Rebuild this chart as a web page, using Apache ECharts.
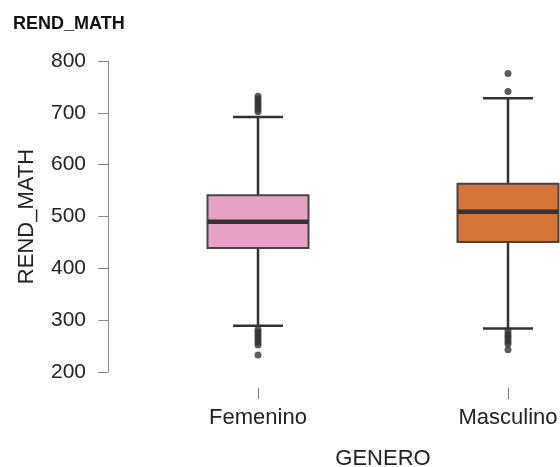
<!DOCTYPE html>
<html><head><meta charset="utf-8">
<script src="https://cdn.jsdelivr.net/npm/echarts@6/dist/echarts.min.js"></script>
<style>html,body{margin:0;padding:0;background:#fff}#c{width:560px;height:467px}</style>
</head><body><div id="c"></div>
<script>
var categories = ['Femenino', 'Masculino'];
// [min whisker, Q1, median, Q3, max whisker]
var boxFemenino = [289, 439, 490, 541, 692];
var boxMasculino = [284, 451, 509, 563, 728];
var outFemenino = [732, 727, 722, 717, 712, 707, 702, 282, 277, 272, 267, 262, 257, 252, 233];
var outMasculino = [776, 741, 279, 274, 269, 264, 259, 254, 243];
var colors = ['#e7a1c6', '#d8733a'];
var yTicks = [200, 300, 400, 500, 600, 700, 800];

var boxes = [boxFemenino, boxMasculino];
var boxData = boxes.map(function (b, i) { return [i].concat(b); });
var outData = [];
outFemenino.forEach(function (v) { outData.push([0, v]); });
outMasculino.forEach(function (v) { outData.push([1, v]); });

var chart = echarts.init(document.getElementById('c'));
chart.setOption({
  animation: false,
  title: { text: 'REND_MATH', left: 8, top: 10, textStyle: { fontFamily: 'Liberation Sans', fontWeight: 'bold', fontSize: 18, color: '#111' } },
  grid: { left: 133, width: 500, top: 61, height: 311, outerBoundsMode: 'none', containLabel: false },
  xAxis: {
    type: 'category', data: categories, boundaryGap: true, offset: 16,
    axisLine: { show: false },
    axisTick: { show: true, alignWithLabel: true, length: 11, lineStyle: { color: '#777' } },
    axisLabel: { fontFamily: 'Liberation Sans', fontSize: 22, color: '#222', margin: 19 },
    name: 'GENERO', nameLocation: 'middle', nameGap: 60,
    nameTextStyle: { fontFamily: 'Liberation Sans', fontSize: 22, color: '#222' }
  },
  yAxis: {
    type: 'value', min: 200, max: 800, interval: 100, offset: 25,
    axisLine: { show: true, lineStyle: { color: '#888' } },
    axisTick: { show: true, length: 10, lineStyle: { color: '#888' } },
    splitLine: { show: false },
    axisLabel: { fontFamily: 'Liberation Sans', fontSize: 21, color: '#222', margin: 22,
      formatter: function (v) { return yTicks.indexOf(v) >= 0 ? String(v) : ''; } },
    name: 'REND_MATH', nameLocation: 'middle', nameGap: 70, nameRotate: 90,
    nameTextStyle: { fontFamily: 'Liberation Sans', fontSize: 22, color: '#222' }
  },
  series: [{
    type: 'custom',
    data: boxData,
    encode: { x: 0, y: [1, 2, 3, 4, 5] },
    renderItem: function (params, api) {
      var i = api.value(0);
      var mn = api.coord([i, api.value(1)]);
      var q1 = api.coord([i, api.value(2)]);
      var md = api.coord([i, api.value(3)]);
      var q3 = api.coord([i, api.value(4)]);
      var mx = api.coord([i, api.value(5)]);
      var band = api.size([1, 0])[0];
      var bw = band * 0.404;
      var cw = band * 0.2;
      var cx = md[0];
      var ls = { stroke: '#333', lineWidth: 2.5 };
      return {
        type: 'group',
        children: [
          { type: 'line', shape: { x1: cx, y1: mx[1], x2: cx, y2: q3[1] }, style: ls },
          { type: 'line', shape: { x1: cx, y1: q1[1], x2: cx, y2: mn[1] }, style: ls },
          { type: 'line', shape: { x1: cx - cw / 2, y1: mx[1], x2: cx + cw / 2, y2: mx[1] }, style: ls },
          { type: 'line', shape: { x1: cx - cw / 2, y1: mn[1], x2: cx + cw / 2, y2: mn[1] }, style: ls },
          { type: 'rect', shape: { x: cx - bw / 2, y: q3[1], width: bw, height: q1[1] - q3[1] },
            style: { fill: colors[i], stroke: '#444', lineWidth: 2 } },
          { type: 'line', shape: { x1: cx - bw / 2, y1: md[1], x2: cx + bw / 2, y2: md[1] },
            style: { stroke: '#333', lineWidth: 4.5 } }
        ]
      };
    },
    z: 2
  }, {
    type: 'scatter',
    data: outData,
    symbolSize: 7,
    itemStyle: { color: '#333' },
    z: 3
  }]
});
</script></body></html>
